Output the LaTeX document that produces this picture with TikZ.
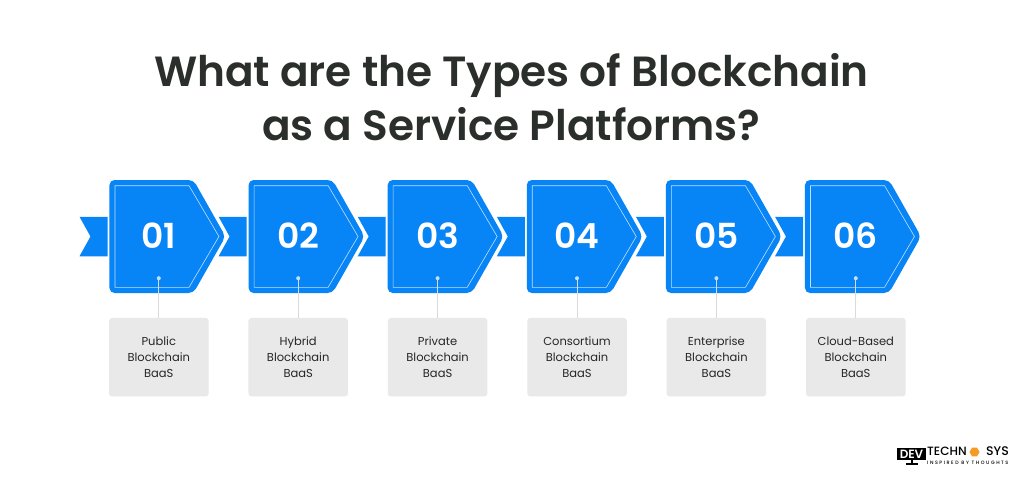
\documentclass[tikz,border=0pt]{standalone}
\usepackage{fontspec}
\setmainfont{Poppins}
\newfontfamily\semifont[UprightFont=* SemiBold]{Poppins}
\newfontfamily\medfont[UprightFont=* Medium]{Poppins}
\newfontfamily\spacedfont[LetterSpace=32,UprightFont=* Medium]{Poppins}
\usepackage{tikz}
\usetikzlibrary{positioning,shapes.symbols,shapes.geometric}
\definecolor{badgeblue}{HTML}{0784F5}
\definecolor{boxgrey}{HTML}{E9E9E9}
\definecolor{linegrey}{HTML}{DADADA}
\definecolor{titleink}{HTML}{2B2F2B}
\definecolor{logoorange}{HTML}{F59A23}
\tikzset{
	%Define style for the arrow shaped boxes
	badge/.style={
		signal, signal to=east,
		signal pointer angle=121,
		rounded corners=5pt,
		fill=badgeblue,
		inner sep=0pt,
		minimum width=116pt,
		minimum height=113pt},
	inline/.style={
		signal, signal to=east,
		signal pointer angle=119,
		draw=white!75!badgeblue, line width=0.6pt,
		inner sep=0pt,
		minimum width=104pt,
		minimum height=101.6pt},
	tailpiece/.style={
		signal, signal to=nowhere, signal from=west,
		signal pointer angle=122,
		fill=badgeblue,
		inner sep=0pt,
		minimum width=28pt,
		minimum height=39.5pt},
	numtext/.style={
		text=white,
		font=\semifont\fontsize{34.5}{34.5}\selectfont},
	pin/.style={
		circle,
		fill=white!75!badgeblue,
		inner sep=0pt,
		minimum size=4pt},
	labelbox/.style={
		rectangle,
		rounded corners=3pt,
		fill=boxgrey,
		text=black!85,
		font=\fontsize{11.5}{16}\selectfont,
		align=center,
		execute at begin node=\rule{0pt}{13pt},
		minimum width=99.5pt,
		minimum height=78.5pt},
	stem/.style={
		draw=linegrey, line width=0.8pt}
}
\begin{document}
\begin{tikzpicture}[x=1pt,y=-1pt,node distance=139.4pt,on grid]
	\useasboundingbox (0,0) rectangle (1024,481);
	\fill[white] (0,0) rectangle (1024,481);
	\node[font=\semifont\fontsize{42.2}{54}\selectfont,text=titleink,align=center] (title) at (511.5,97) {What are the Types of Blockchain\\as a Service Platforms?};

	\node[labelbox] (box1) at (158.8,357.2) {Public\\Blockchain\\BaaS};
	\node[labelbox,right=of box1] (box2) {Hybrid\\Blockchain\\BaaS};
	\node[labelbox,right=of box2] (box3) {Private\\Blockchain\\BaaS};
	\node[labelbox,right=of box3] (box4) {Consortium\\Blockchain\\BaaS};
	\node[labelbox,right=of box4] (box5) {Enterprise\\Blockchain\\BaaS};
	\node[labelbox,right=of box5] (box6) {Cloud-Based\\Blockchain\\BaaS};

	\node[tailpiece] (tail1) at (99,236.5) {};
	\node[tailpiece,right=139.1pt of tail1] (tail2) {};
	\node[tailpiece,right=139.1pt of tail2] (tail3) {};
	\node[tailpiece,right=139.1pt of tail3] (tail4) {};
	\node[tailpiece,right=139.1pt of tail4] (tail5) {};
	\node[tailpiece,right=139.1pt of tail5] (tail6) {};

	\node[badge] (badge1) at (151.5,236.5) {};
	\node[badge,right=139.1pt of badge1] (badge2) {};
	\node[badge,right=139.1pt of badge2] (badge3) {};
	\node[badge,right=139.1pt of badge3] (badge4) {};
	\node[badge,right=139.1pt of badge4] (badge5) {};
	\node[badge,right=139.1pt of badge5] (badge6) {};

	\node[inline] (inner1) at (152,236.5) {};
	\node[inline,right=139.1pt of inner1] (inner2) {};
	\node[inline,right=139.1pt of inner2] (inner3) {};
	\node[inline,right=139.1pt of inner3] (inner4) {};
	\node[inline,right=139.1pt of inner4] (inner5) {};
	\node[inline,right=139.1pt of inner5] (inner6) {};

	\node[numtext,above=121.5pt of box1] (num1) {01};
	\node[numtext,above=121.5pt of box2] (num2) {02};
	\node[numtext,above=121.5pt of box3] (num3) {03};
	\node[numtext,above=121.5pt of box4] (num4) {04};
	\node[numtext,above=121.5pt of box5] (num5) {05};
	\node[numtext,above=121.5pt of box6] (num6) {06};

	\node[pin,above=79pt of box1] (pin1) {};
	\node[pin,above=79pt of box2] (pin2) {};
	\node[pin,above=79pt of box3] (pin3) {};
	\node[pin,above=79pt of box4] (pin4) {};
	\node[pin,above=79pt of box5] (pin5) {};
	\node[pin,above=79pt of box6] (pin6) {};

	\draw[stem] (pin1) -- (box1);
	\draw[stem] (pin2) -- (box2);
	\draw[stem] (pin3) -- (box3);
	\draw[stem] (pin4) -- (box4);
	\draw[stem] (pin5) -- (box5);
	\draw[stem] (pin6) -- (box6);

	% logo
	\node[fill=black,text=white,inner sep=0pt,minimum width=29pt,minimum height=12.5pt,font=\semifont\fontsize{12}{12}\selectfont] (screen) at (911.5,454) {DEV};
	\node[fill=black,inner sep=0pt,minimum width=12pt,minimum height=2pt] (stand) at (911.5,464) {};
	\draw[black,line width=2pt] (screen) -- (stand);
	\node[inner sep=0pt,anchor=west,font=\medfont\fontsize{12}{12}\selectfont] (techn) at (927,451.5) {TECHN};
	\node[regular polygon,regular polygon sides=6,fill=logoorange,inner sep=0pt,minimum size=10pt] (hex) at (974.5,452) {};
	\node[inner sep=0pt,anchor=east,font=\medfont\fontsize{12.5}{12.5}\selectfont] (sys) at (1009,451.5) {SYS};
	\node[inner sep=0pt,anchor=west,font=\spacedfont\fontsize{4.8}{4.8}\selectfont] (tagline) at (927,462.5) {INSPIRED BY THOUGHTS};
\end{tikzpicture}
\end{document}
